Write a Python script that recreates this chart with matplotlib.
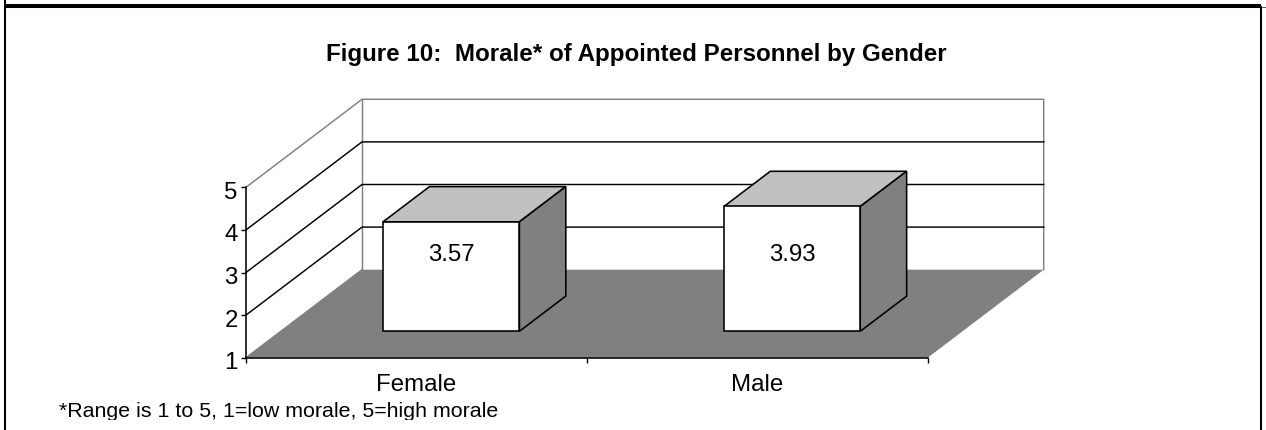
import matplotlib
matplotlib.use('Agg')
import matplotlib.pyplot as plt
from matplotlib.patches import Polygon
from matplotlib.transforms import Bbox, ScaledTranslation

plt.rcParams['font.family']=['Liberation Sans', 'DejaVu Sans']

categories=['Female', 'Male']
values=[3.57, 3.93]
value_labels=['3.57', '3.93']
yticks=[1, 2, 3, 4, 5]
title='Figure 10:  Morale* of Appointed Personnel by Gender'
footnote='*Range is 1 to 5, 1=low morale, 5=high morale'

W,H=1266,430
fig=plt.figure(figsize=(W/100,H/100), dpi=100)

# axes covers only the front plane of the fake 3d box
left,right,bottom,top=246,927.7,357.7,187.3
ax=fig.add_axes([left/W, 1-bottom/H, (right-left)/W, (bottom-top)/H])
ax.set_xlim(0,2)
ax.set_ylim(1,5)
ax.patch.set_visible(False)

# depth direction in data units
depth_x=116/((right-left)/2)
depth_y=88/((bottom-top)/4)

def proj(x,v,d):
    return (x+d*depth_x, v+d*depth_y)

def face(pts, **kw):
    ax.add_patch(Polygon([proj(*p) for p in pts], closed=True, clip_on=False, **kw))

gray='#808080'
lw_line=1.05
fs=17.3

# floor
face([(0,1,0),(2,1,0),(2,1,1),(0,1,1)], facecolor=gray, edgecolor='none', zorder=1)

# walls
for pts in [[(0,5,0),(0,5,1),(2,5,1),(2,1,1)], [(0,5,1),(0,1,1)], [(0,1,0),(0,1,1)]]:
    xy=[proj(*p) for p in pts]
    ax.plot([p[0] for p in xy],[p[1] for p in xy], color=gray, lw=lw_line, clip_on=False, zorder=2, solid_capstyle='projecting')

# gridlines
for v in yticks[1:-1]:
    xy=[proj(0,v,0),proj(0,v,1),proj(2,v,1)]
    ax.plot([p[0] for p in xy],[p[1] for p in xy], color='black', lw=lw_line, clip_on=False, zorder=2)

# bars
bar_w=0.4
d0,d1=0.3,0.7
label_y=3.40
for i,(val,lab) in enumerate(zip(values,value_labels)):
    x0=i+0.5-bar_w/2
    x1=i+0.5+bar_w/2
    edge=dict(edgecolor='black', linewidth=1.15, joinstyle='miter', zorder=3)
    face([(x0,val,d0),(x1,val,d0),(x1,val,d1),(x0,val,d1)], facecolor='#c0c0c0', **edge)
    face([(x1,1,d0),(x1,1,d1),(x1,val,d1),(x1,val,d0)], facecolor=gray, **edge)
    face([(x0,1,d0),(x1,1,d0),(x1,val,d0),(x0,val,d0)], facecolor='white', **edge)
    cx=proj(i+0.5,1,d0)[0]
    ax.text(cx,label_y,lab,ha='center',va='center',fontsize=fs,color='black',zorder=4)

# axes
for s in ['top','right']:
    ax.spines[s].set_visible(False)
for s in ['left','bottom']:
    ax.spines[s].set_linewidth(1.15)
    ax.spines[s].set_zorder(5)
ax.set_yticks(yticks)
ax.set_xticks([0,1,2])
ax.set_xticklabels([])
ax.set_xticks([0.5,1.5], minor=True)
ax.set_xticklabels(categories, minor=True, fontsize=fs)
ax.tick_params(axis='x', which='major', length=3.5, width=1.0)
ax.tick_params(axis='x', which='minor', length=0, pad=12)
ax.tick_params(axis='y', length=3.5, width=1.0, labelsize=fs, pad=2.5)
# numbers sit a little below their ticks in the original
for t in ax.get_yticklabels():
    t.set_transform(t.get_transform()+ScaledTranslation(0,-3/100,fig.dpi_scale_trans))

# title and footnote
fig.text(636/W,1-55/H,title,ha='center',va='center',fontsize=17.4,fontweight='bold')
fn=fig.text(59/W,1-416.7/H,footnote,ha='left',va='baseline',fontsize=15.4)
fn.set_clip_box(Bbox([[0,H-419.5],[W,H]]))
fn.set_clip_on(True)

# page border lines
def page_line(xs,ys,lw,color='black'):
    fig.add_artist(plt.Line2D([x/W for x in xs],[1-y/H for y in ys],color=color,lw=lw,solid_capstyle='butt'))

page_line([4,1261],[6,6],2.9)
page_line([5,5],[0,430],1.45)
page_line([1261,1261],[6,430],1.45)
page_line([1265.5,1265.5],[0,6],0.7,'#555555')
page_line([1261,1265.5],[6.5,6.5],0.7,'#555555')

fig.savefig('out.png', dpi=100)
